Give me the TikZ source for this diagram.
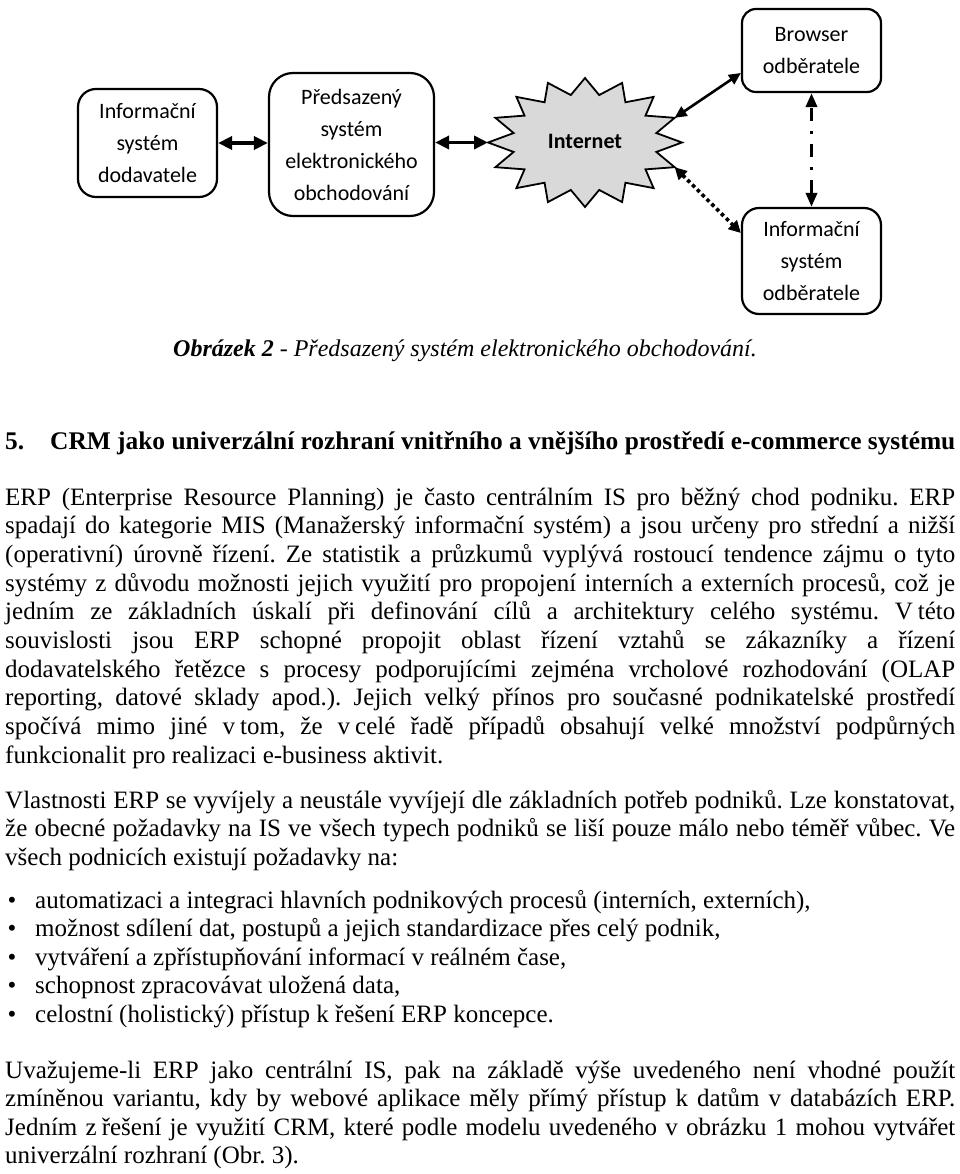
\documentclass[tikz,border=0pt]{standalone}
\usepackage{fontspec}
\setmainfont{Liberation Serif}
\newfontfamily\diagfont{Carlito}
\usetikzlibrary{arrows.meta}
\frenchspacing
\newcommand\justline[1]{\makebox[950pt][s]{#1}}
\newcommand\fixsp{\hspace{5pt}}
\tikzset{
  box/.style={draw, line width=2.2pt, font=\diagfont\fontsize{22}{32}\selectfont, align=center, inner sep=0pt},
  body/.style={anchor=base west, inner sep=0pt, font=\fontsize{25}{29}\selectfont},
  bigarrow/.style={line width=3.6pt, {Triangle[length=14pt,width=13pt]}-{Triangle[length=14pt,width=13pt]}},
  thinarrow/.style={line width=2.6pt, {Triangle[length=12pt,width=11pt]}-{Triangle[length=12pt,width=11pt]}},
  dotarrow/.style={line width=3.6pt, dash pattern=on 3.6pt off 3.2pt, {Triangle[length=12pt,width=12pt]}-{Triangle[length=12pt,width=12pt]}},
  dasharrow/.style={line width=3.4pt, dash pattern=on 13pt off 10pt on 3pt off 10pt, dash phase=-2pt, {Triangle[length=14pt,width=11pt]}-{Triangle[length=14pt,width=11pt]}},
  starsty/.style={draw, line width=1.8pt, fill=black!15, line join=miter}
}
\begin{document}
\begin{tikzpicture}[x=1pt, y=-1pt]
\useasboundingbox (0,0) rectangle (960,1174);
% ---------- diagram ----------
\node[box, minimum width=139pt, minimum height=108pt, rounded corners=18pt] (b1) at (147.5,143) {Informační\\systém\\dodavatele};
\node[box, minimum width=165pt, minimum height=143pt, rounded corners=24pt] (b2) at (351.5,144.5) {Předsazený\\systém\\elektronického\\obchodování};
\node[box, minimum width=139pt, minimum height=83pt, rounded corners=14pt] (b3) at (811.5,50.5) {Browser\\odběratele};
\node[box, minimum width=139pt, minimum height=106pt, rounded corners=17pt] (b4) at (811.5,261) {Informační\\systém\\odběratele};
\draw[starsty] (682,142.5) \foreach \k in {1,...,31}{ -- ({585+97*(1-0.25*mod(\k,2))*cos(\k*11.25)},{142.5-64.5*(1-0.25*mod(\k,2))*sin(\k*11.25)}) } -- cycle;
\node[font=\diagfont\bfseries\fontsize{22}{26}\selectfont, inner sep=0pt] (inet) at (585,141) {Internet};
\coordinate (sL) at (488,142.5);
\coordinate (sUR) at ({585+97*cos(22.5)},{142.5-64.5*sin(22.5)});
\coordinate (sLR) at ({585+97*cos(22.5)},{142.5+64.5*sin(22.5)});
\coordinate (b3in) at ([yshift=-22.5pt]b3.west);
\coordinate (b4in) at ([yshift=28pt]b4.west);
\draw[bigarrow] (b1.east) -- (b1.east -| b2.west);
\draw[bigarrow] (sL -| b2.east) -- (sL);
\draw[thinarrow] (sUR) -- (b3in);
\draw[dotarrow] (sLR) -- (b4in);
\draw[dasharrow] (b3.south) -- (b4.north);
% ---------- caption & heading ----------
\node[anchor=base, inner sep=0pt, font=\fontsize{24}{28}\selectfont] (cap) at (465,356) {\textbf{\textit{Obrázek 2}} \textit{- Předsazený systém elektronického obchodování.}};
\node[body, font=\bfseries\fontsize{25.4}{29}\selectfont] (hnum) at (5,449) {5.};
\node[body, font=\bfseries\fontsize{25.4}{29}\selectfont] (head) at (50,449) {CRM jako univerzální rozhraní vnitřního a vnějšího prostředí e-commerce systému};
% ---------- paragraph 1 ----------
\node[body] (p1a) at (5,505) {\justline{ERP (Enterprise Resource Planning) je často centrálním IS pro běžný chod podniku. ERP}};
\node[body] (p1b) at (5,533.7) {\justline{spadají do kategorie MIS (Manažerský informační systém) a jsou určeny pro střední a nižší}};
\node[body] (p1c) at (5,562.4) {\justline{(operativní) úrovně řízení. Ze statistik a průzkumů vyplývá rostoucí tendence zájmu o tyto}};
\node[body] (p1d) at (5,591.1) {\justline{systémy z důvodu možnosti jejich využití pro propojení interních a externích procesů, což je}};
\node[body] (p1e) at (5,619.8) {\justline{jedním ze základních úskalí při definování cílů a architektury celého systému. V\fixsp této}};
\node[body] (p1f) at (5,648.5) {\justline{souvislosti jsou ERP schopné propojit oblast řízení vztahů se zákazníky a řízení}};
\node[body] (p1g) at (5,677.2) {\justline{dodavatelského řetězce s procesy podporujícími zejména vrcholové rozhodování (OLAP}};
\node[body] (p1h) at (5,705.9) {\justline{reporting, datové sklady apod.). Jejich velký přínos pro současné podnikatelské prostředí}};
\node[body] (p1i) at (5,734.6) {\justline{spočívá mimo jiné v\fixsp tom, že v\fixsp celé řadě případů obsahují velké množství podpůrných}};
\node[body] (p1j) at (5,763.3) {funkcionalit pro realizaci e-business aktivit.};
% ---------- paragraph 2 ----------
\node[body] (p2a) at (5,808) {\justline{Vlastnosti ERP se vyvíjely a neustále vyvíjejí dle základních potřeb podniků. Lze konstatovat,}};
\node[body] (p2b) at (5,836.7) {\justline{že obecné požadavky na IS ve všech typech podniků se liší pouze málo nebo téměř vůbec. Ve}};
\node[body] (p2c) at (5,865.4) {všech podnicích existují požadavky na:};
% ---------- bullets ----------
\foreach \t [count=\i from 0] in {automatizaci a integraci hlavních podnikových procesů (interních{,} externích){,},
  možnost sdílení dat{,} postupů a jejich standardizace přes celý podnik{,},
  vytváření a zpřístupňování informací v reálném čase{,},
  schopnost zpracovávat uložená data{,},
  celostní (holistický) přístup k řešení ERP koncepce.}{
  \node[anchor=base, inner sep=0pt, font=\fontsize{25}{29}\selectfont] (bul\i) at (12,908+28.5*\i) {•};
  \node[body] (bt\i) at (35,908+28.5*\i) {\t};
}
% ---------- paragraph 3 ----------
\node[body] (p3a) at (5,1078) {\justline{Uvažujeme-li ERP jako centrální IS, pak na základě výše uvedeného není vhodné použít}};
\node[body] (p3b) at (5,1106.5) {\justline{zmíněnou variantu, kdy by webové aplikace měly přímý přístup k datům v databázích ERP.}};
\node[body] (p3c) at (5,1135) {\justline{Jedním z\fixsp řešení je využití CRM, které podle modelu uvedeného v obrázku 1 mohou vytvářet}};
\node[body] (p3d) at (5,1163.5) {univerzální rozhraní (Obr. 3).};
\end{tikzpicture}
\end{document}
